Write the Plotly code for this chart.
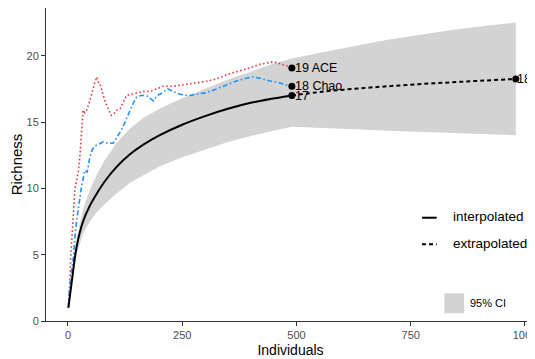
import plotly.graph_objects as go

# ---- data ----
interp_n = [1, 10, 19, 33, 48, 63, 80, 106, 135, 165, 200, 250, 300, 350, 400, 445, 490]
interp_s = [1.0, 3.4, 5.6, 7.5, 8.7, 9.6, 10.5, 11.6, 12.55, 13.3, 14.0, 14.8, 15.45, 16.0, 16.45, 16.75, 17.0]
interp_lo = [1.0, 3.1, 5.0, 6.6, 7.5, 8.2, 8.8, 9.6, 10.4, 11.0, 11.65, 12.35, 12.95, 13.5, 13.95, 14.3, 14.65]
interp_hi = [1.0, 3.7, 6.2, 8.4, 9.9, 11.0, 12.1, 13.4, 14.5, 15.3, 16.0, 16.8, 17.5, 18.2, 18.8, 19.35, 19.8]

extrap_n = [490, 560, 630, 700, 770, 840, 910, 980]
extrap_s = [17.0, 17.3, 17.52, 17.7, 17.86, 18.0, 18.13, 18.25]
extrap_lo = [14.65, 14.55, 14.45, 14.35, 14.25, 14.15, 14.08, 14.0]
extrap_hi = [19.8, 20.3, 20.75, 21.2, 21.6, 21.95, 22.25, 22.5]

ace_n = [1, 3, 6, 10, 15, 19, 23, 27, 30, 33, 37, 41, 44, 48, 53, 58, 63, 67, 70, 75, 81, 88, 95,
         100, 107, 114, 121, 128, 140, 150, 165, 179, 195, 209, 230, 250, 274, 300, 325, 354, 390,
         420, 449, 474, 490]
ace_s = [1.0, 2.0, 4.8, 7.3, 9.85, 10.6, 11.35, 12.8, 14.1, 15.9, 15.7, 15.9, 16.2, 16.6, 17.2, 17.9,
         18.4, 18.0, 17.9, 17.3, 16.6, 16.0, 15.5, 15.6, 15.9, 16.0, 16.5, 17.0, 17.1, 17.2, 17.3, 17.3,
         17.5, 17.7, 17.7, 17.8, 17.9, 18.05, 18.25, 18.65, 19.0, 19.35, 19.55, 19.3, 19.07]

chao_n = [1, 3, 7, 12, 15, 19, 25, 30, 37, 42, 48, 53, 59, 65, 77, 88, 99, 108, 117, 125, 132, 140,
          150, 160, 172, 180, 187, 195, 201, 219, 230, 245, 265, 282, 300, 318, 340, 369, 390, 405,
          420, 442, 460, 475, 490]
chao_s = [1.0, 2.3, 3.5, 4.8, 6.2, 7.6, 9.0, 10.2, 11.35, 11.2, 12.35, 12.9, 13.2, 13.3, 13.5, 13.4,
          13.4, 13.9, 14.4, 15.0, 15.6, 16.2, 16.9, 17.0, 17.0, 16.8, 16.6, 17.0, 17.1, 17.5, 17.3, 17.1,
          17.0, 17.1, 17.2, 17.4, 17.7, 18.1, 18.3, 18.4, 18.3, 18.1, 18.0, 17.8, 17.7]

end_n = [490, 490, 490, 980]
end_s = [19.07, 17.7, 17.0, 18.25]
end_labels = ["19 ACE", "18 Chao", "17", "18"]

x_ticks = [0, 250, 500, 750, 1000]
y_ticks = [0, 5, 10, 15, 20]

FONT = "Liberation Sans, Arial"

# ---- figure ----
band_n = interp_n + extrap_n[1:]
band_hi = interp_hi + extrap_hi[1:]
band_lo = interp_lo + extrap_lo[1:]

fig = go.Figure()
fig.add_trace(go.Scatter(
    x=band_n + band_n[::-1], y=band_hi + band_lo[::-1],
    fill="toself", fillcolor="#D3D3D3", line=dict(width=0), mode="lines",
    hoverinfo="skip", showlegend=False))
fig.add_trace(go.Scatter(x=ace_n, y=ace_s, mode="lines",
                         line=dict(color="#E8383D", width=1.6, dash="1.6px,2.4px"),
                         showlegend=False))
fig.add_trace(go.Scatter(x=chao_n, y=chao_s, mode="lines",
                         line=dict(color="#1E90FF", width=1.6, dash="5px,2.5px,1.6px,2.5px"),
                         showlegend=False))
fig.add_trace(go.Scatter(x=interp_n, y=interp_s, mode="lines", line_shape="spline",
                         line=dict(color="black", width=2), showlegend=False))
fig.add_trace(go.Scatter(x=extrap_n, y=extrap_s, mode="lines", line_shape="spline",
                         line=dict(color="black", width=2, dash="4px,3px"), showlegend=False))
fig.add_trace(go.Scatter(x=end_n, y=end_s, mode="markers",
                         marker=dict(color="black", size=7), cliponaxis=False, showlegend=False))
for i, (xv, yv, lab) in enumerate(zip(end_n, end_s, end_labels)):
    fig.add_annotation(x=xv, y=yv, text=lab, showarrow=False, xanchor="left", yanchor="middle",
                       xshift=1.5 if i < len(end_n) - 1 else -1,
                       font=dict(family=FONT, size=12.5, color="black"))

# manual legend (paper coords; plot area 489 x 313 px)
fig.add_shape(type="line", xref="paper", yref="paper", x0=0.769, x1=0.799, y0=0.330, y1=0.330,
              line=dict(color="black", width=2))
fig.add_shape(type="line", xref="paper", yref="paper", x0=0.769, x1=0.799, y0=0.245, y1=0.245,
              line=dict(color="black", width=2, dash="4px,3px"))
fig.add_shape(type="rect", xref="paper", yref="paper", x0=0.8145, x1=0.855, y0=0.0246, y1=0.0885,
              line=dict(width=0), fillcolor="#D3D3D3")
for txt, xx, yy, sz in [("interpolated", 0.828, 0.333, 13.5), ("extrapolated", 0.828, 0.248, 13.5),
                        ("95% CI", 0.862, 0.058, 11)]:
    fig.add_annotation(x=xx, y=yy, xref="paper", yref="paper", text=txt,
                       showarrow=False, xanchor="left", yanchor="middle",
                       font=dict(family=FONT, size=sz, color="black"))

axis_common = dict(showline=True, linecolor="#333333", linewidth=1, ticks="outside", ticklen=4,
                   tickcolor="#333333", tickwidth=1, showgrid=False, zeroline=False,
                   automargin=False, ticklabeloverflow="allow",
                   tickfont=dict(family=FONT, size=11, color="#4D4D4D"))
fig.update_xaxes(range=[-48, 1022], tickvals=x_ticks, ticktext=[str(v) for v in x_ticks],
                 title=dict(text="Individuals", standoff=4,
                            font=dict(family=FONT, size=14, color="black")),
                 **axis_common)
fig.update_yaxes(range=[0, 23.6], tickvals=y_ticks, ticktext=[str(v) for v in y_ticks],
                 title=dict(text="Richness", standoff=6,
                            font=dict(family=FONT, size=15, color="black")),
                 **axis_common)
# page body adds an 8px offset; figure is sized so the plot area lands where the reference has it
fig.update_layout(width=527, height=351, autosize=False,
                  margin=dict(l=38, r=0, t=0, b=38, autoexpand=False),
                  plot_bgcolor="white", paper_bgcolor="white", showlegend=False)
fig.write_html("out.html")
